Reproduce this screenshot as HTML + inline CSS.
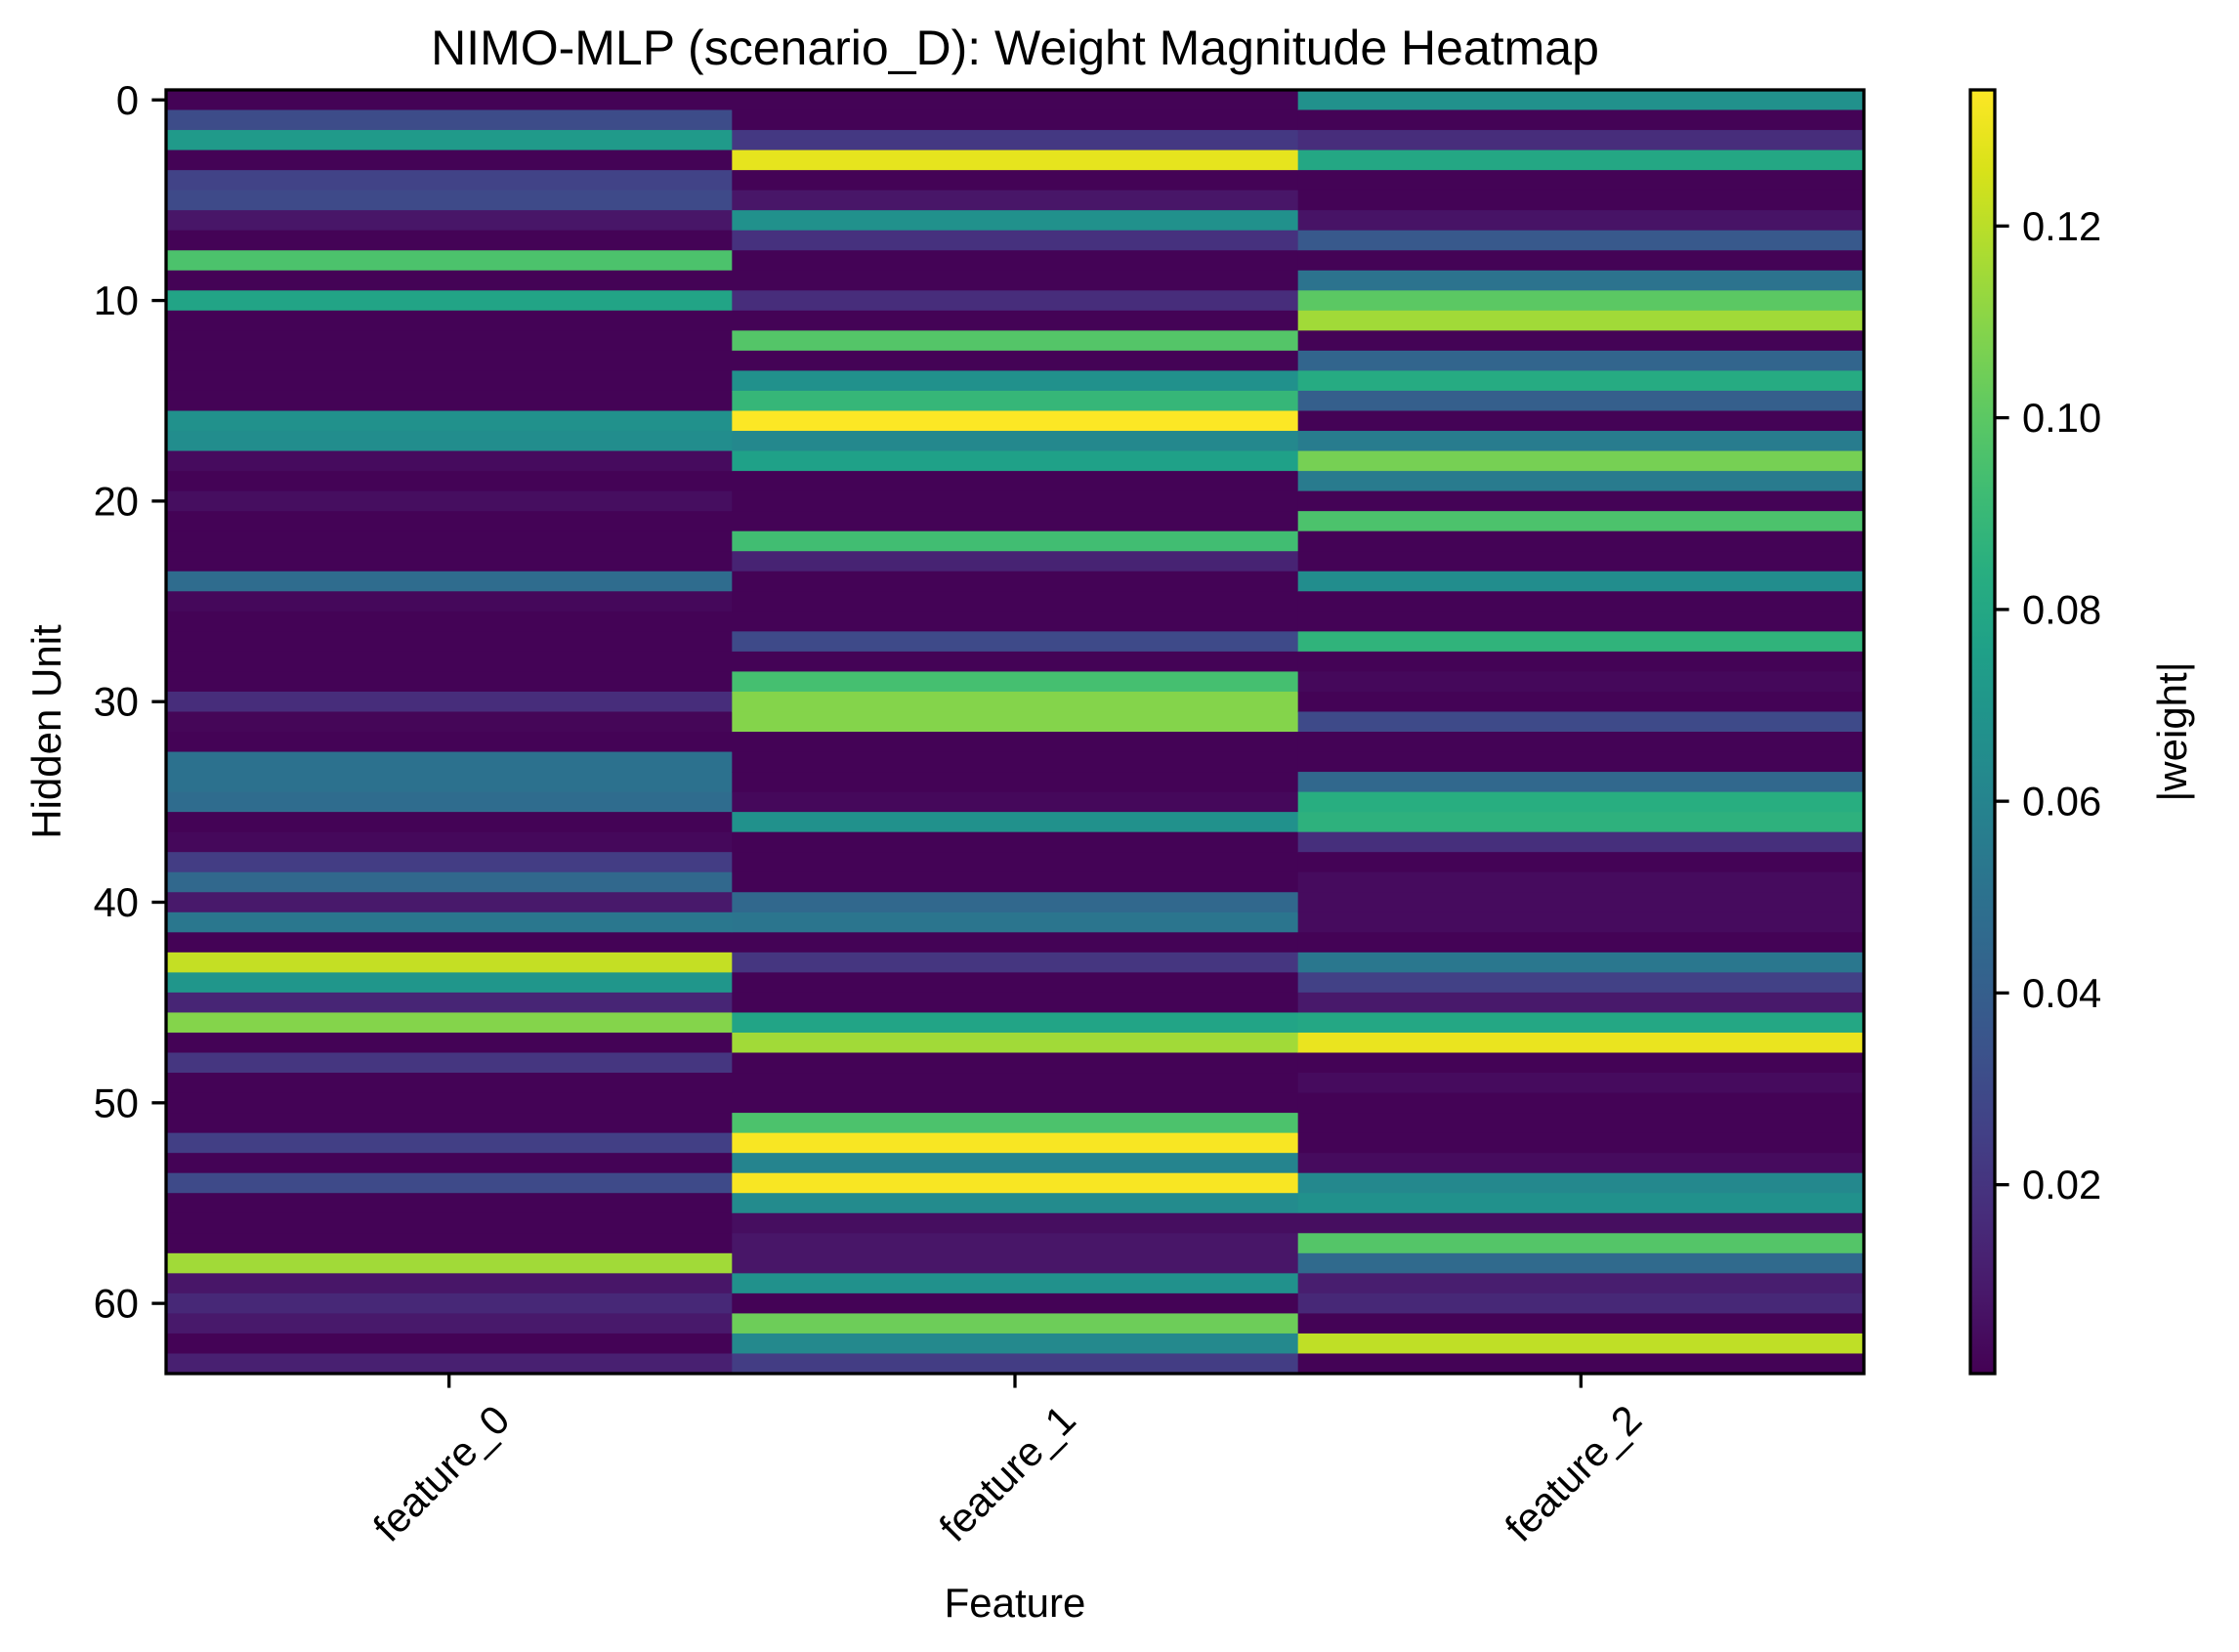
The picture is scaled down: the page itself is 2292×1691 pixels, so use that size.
<!DOCTYPE html>
<html><head><meta charset="utf-8"><style>
html,body{margin:0;padding:0;background:#fff}
svg{display:block}
text{font-family:"Liberation Sans","DejaVu Sans",sans-serif;fill:#000}
</style></head><body>
<svg id="chart" width="2292" height="1691" viewBox="0 0 2292 1691" xmlns="http://www.w3.org/2000/svg">
<text x="1039" y="66" font-size="50" text-anchor="middle">NIMO-MLP (scenario_D): Weight Magnitude Heatmap</text>
<g id="cells"></g>
<g id="axes"></g>
<g id="cbar"></g>
<text x="1039" y="1655" font-size="42" text-anchor="middle">Feature</text>
<text x="0" y="0" font-size="42" text-anchor="middle" transform="translate(62,749) rotate(-90)">Hidden Unit</text>
<text x="0" y="0" font-size="42" text-anchor="middle" transform="translate(2238,749) rotate(-90)">|weight|</text>
</svg>
<script>
const features = ["feature_0", "feature_1", "feature_2"];
const f0 = [0.001,0.031,0.072,0.001,0.027,0.030,0.008,0.001,0.096,0.001,0.078,0.001,0.001,0.001,0.001,0.001,0.067,0.065,0.004,0.001,0.005,0.001,0.001,0.001,0.047,0.003,0.001,0.001,0.001,0.001,0.017,0.002,0.001,0.050,0.050,0.047,0.001,0.003,0.024,0.045,0.009,0.053,0.001,0.122,0.070,0.014,0.109,0.001,0.021,0.001,0.001,0.001,0.025,0.001,0.030,0.001,0.001,0.001,0.115,0.008,0.015,0.009,0.001,0.012];
const f1 = [0.001,0.001,0.022,0.129,0.001,0.008,0.067,0.019,0.001,0.001,0.017,0.001,0.098,0.001,0.067,0.089,0.134,0.062,0.076,0.001,0.001,0.001,0.093,0.013,0.001,0.001,0.001,0.030,0.001,0.094,0.109,0.109,0.001,0.001,0.001,0.003,0.067,0.001,0.001,0.001,0.045,0.052,0.001,0.021,0.001,0.001,0.078,0.115,0.001,0.001,0.001,0.096,0.133,0.060,0.133,0.064,0.005,0.008,0.008,0.067,0.001,0.104,0.063,0.024];
const f2 = [0.067,0.001,0.017,0.080,0.001,0.001,0.007,0.037,0.001,0.051,0.100,0.115,0.001,0.043,0.082,0.040,0.001,0.056,0.106,0.055,0.001,0.096,0.001,0.001,0.065,0.001,0.001,0.087,0.001,0.003,0.001,0.030,0.001,0.001,0.045,0.084,0.086,0.018,0.001,0.004,0.004,0.004,0.001,0.053,0.026,0.009,0.080,0.130,0.001,0.004,0.001,0.001,0.001,0.004,0.062,0.067,0.005,0.098,0.046,0.011,0.015,0.001,0.121,0.001];
const series = [f0, f1, f2];
const yTicks = [0, 10, 20, 30, 40, 50, 60];
const cbTicks = [0.02, 0.04, 0.06, 0.08, 0.10, 0.12];
const vmin = 0.0003, vmax = 0.1342;

const NS = "http://www.w3.org/2000/svg";
const PL = 170, PR = 1908, PT = 92, PB = 1406;
const nRows = f0.length;
const rowH = (PB - PT) / nRows, colW = (PR - PL) / features.length;
const yPos = i => PT + i * rowH;
const xPos = j => PL + j * colW;
const stops = ["#440154","#48186a","#472d7b","#424086","#3b528b","#33638d","#2c728e","#26828e","#21918c","#1fa088","#28ae80","#3fbc73","#5ec962","#84d44b","#addc30","#d8e219","#fde725"];
function hex(h){return [1,3,5].map(k=>parseInt(h.substr(k,2),16));}
function viridis(t){
  t = Math.max(0, Math.min(1, t));
  const p = t * (stops.length - 1), i = Math.min(Math.floor(p), stops.length - 2), f = p - i;
  const a = hex(stops[i]), b = hex(stops[i+1]);
  return "rgb(" + a.map((v,k)=>Math.round(v + (b[k]-v)*f)).join(",") + ")";
}
const norm = v => (v - vmin) / (vmax - vmin);
function mk(tag, attrs, parent){
  const e = document.createElementNS(NS, tag);
  for (const k in attrs) e.setAttribute(k, attrs[k]);
  parent.appendChild(e); return e;
}
const cells = document.getElementById("cells");
series.forEach((arr, j) => {
  arr.forEach((v, i) => {
    const r = mk("rect", {x: xPos(j), y: yPos(i), width: colW + 0.6, height: rowH + 0.6, fill: viridis(norm(v))}, cells);
    
    
  });
});
const axes = document.getElementById("axes");
const frame = mk("rect", {x: PL, y: PT, width: PR - PL, height: PB - PT, fill: "none", stroke: "#000", "stroke-width": 3.3}, axes);


yTicks.forEach(t => {
  const y = yPos(t) + rowH / 2;
  mk("line", {x1: PL - 14.6, x2: PL, y1: y, y2: y, stroke: "#000", "stroke-width": 3.3}, axes);
  const tx = mk("text", {x: PL - 28, y: y + 14.5, "font-size": 41.7, "text-anchor": "end"}, axes);
  tx.textContent = t;
  
  
});
features.forEach((f, j) => {
  const x = xPos(j) + colW / 2;
  mk("line", {x1: x, x2: x, y1: PB, y2: PB + 14.6, stroke: "#000", "stroke-width": 3.3}, axes);
  const tx = mk("text", {x: 0, y: 0, "font-size": 41.7, "text-anchor": "middle", "dominant-baseline": "central", transform: "translate(" + (x - 8) + "," + 1508 + ") rotate(-45)"}, axes);
  tx.textContent = f;
  
  
});
const cb = document.getElementById("cbar");
const CL = 2017, CR = 2042;
const cbY = v => PB - norm(v) * (PB - PT);
const defs = mk("defs", {}, cb);
const grad = mk("linearGradient", {id: "vg", x1: 0, y1: 1, x2: 0, y2: 0}, defs);
stops.forEach((s, i) => mk("stop", {offset: (i / (stops.length - 1)), "stop-color": s}, grad));
const bar = mk("rect", {x: CL, y: PT, width: CR - CL, height: PB - PT, fill: "url(#vg)", stroke: "#000", "stroke-width": 3.3}, cb);


cbTicks.forEach(t => {
  const y = cbY(t);
  mk("line", {x1: CR, x2: CR + 14.6, y1: y, y2: y, stroke: "#000", "stroke-width": 3.3}, cb);
  const tx = mk("text", {x: CR + 28, y: y + 14.5, "font-size": 41.7}, cb);
  tx.textContent = t.toFixed(2);
  
  
});
</script>
</body></html>
